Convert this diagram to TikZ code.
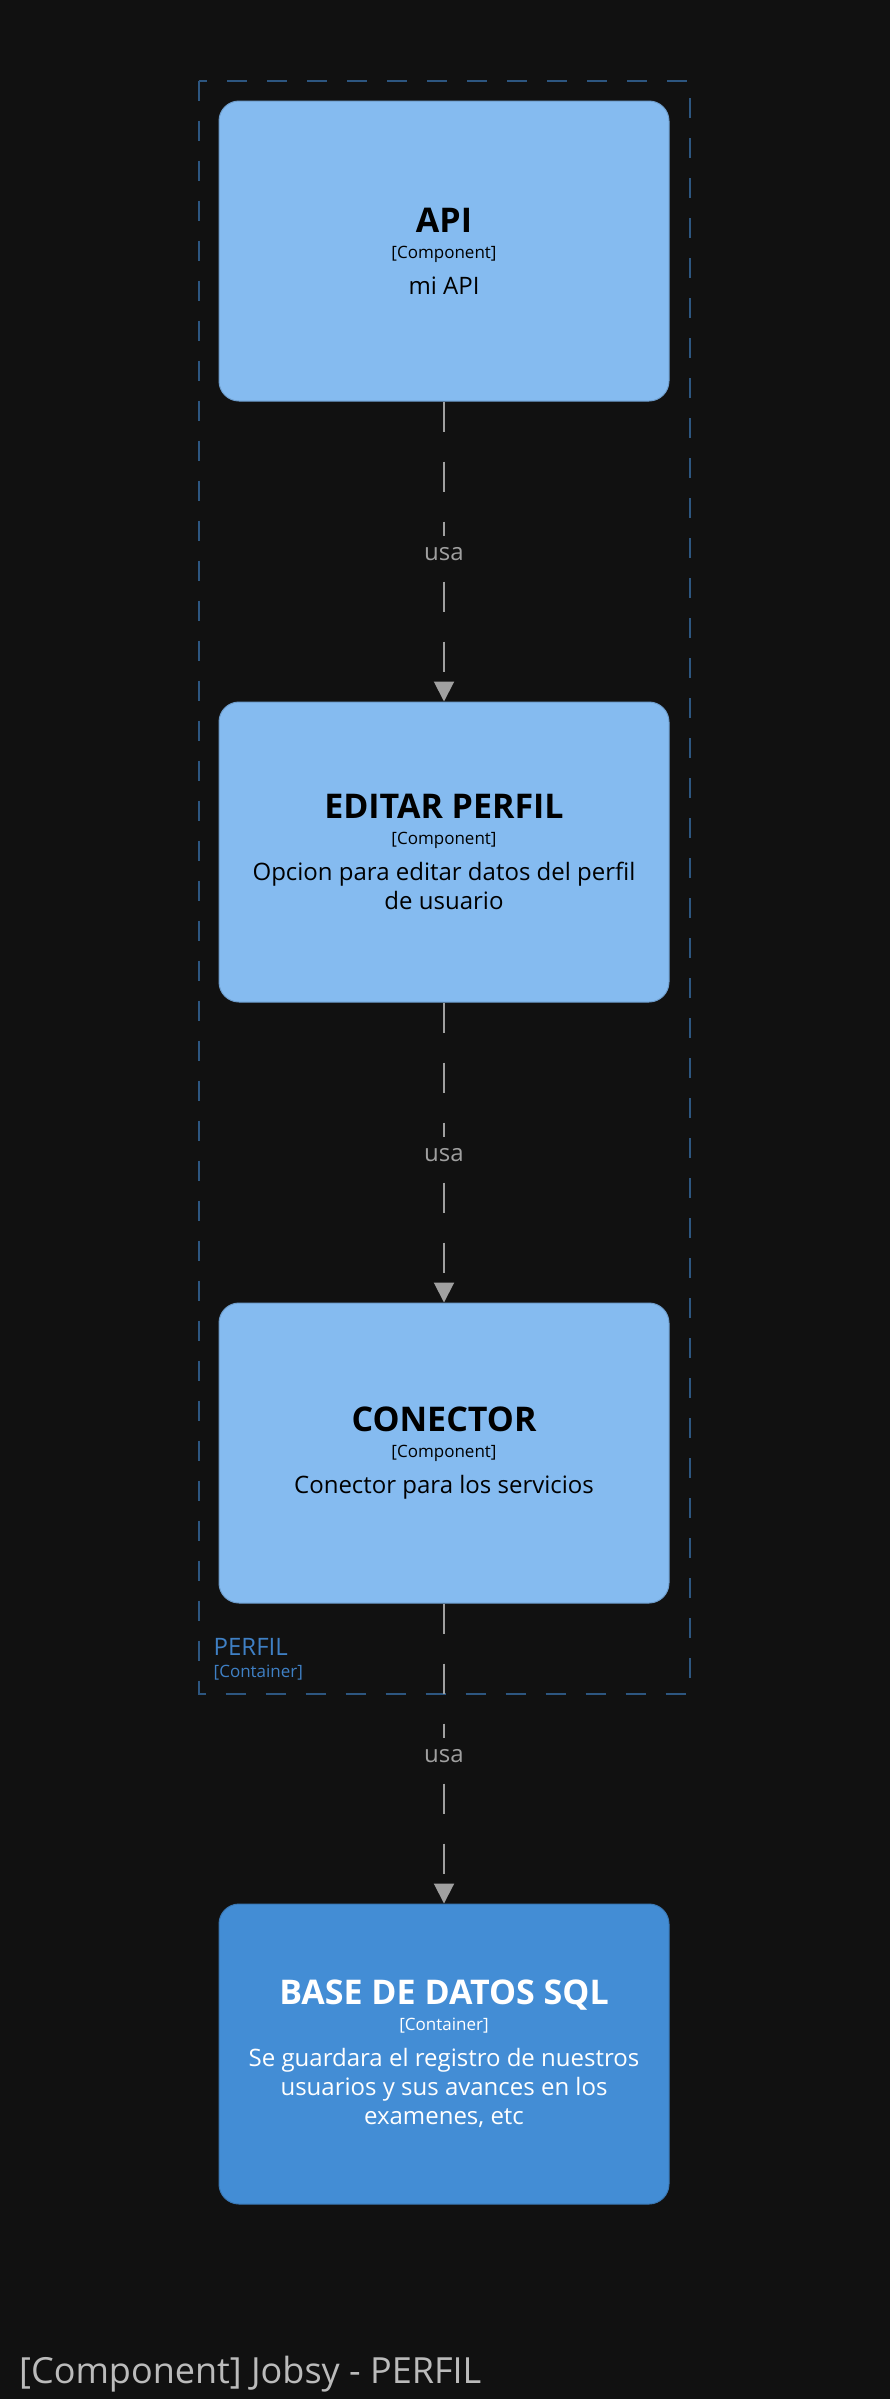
\documentclass[tikz,border=0pt]{standalone}
\usepackage{fontspec}
\setmainfont{Open Sans}
\usetikzlibrary{arrows.meta,positioning,calc}
\definecolor{bgdark}{HTML}{111111}
\definecolor{compblue}{HTML}{85BBF0}
\definecolor{compedge}{HTML}{6E9DCC}
\definecolor{contblue}{HTML}{438DD5}
\definecolor{contedge}{HTML}{3A78B5}
\definecolor{boundblue}{HTML}{2D5680}
\definecolor{boundtext}{HTML}{3F80C5}
\definecolor{relgray}{HTML}{A0A0A0}
\definecolor{titlegray}{HTML}{BBBBBB}
\newcommand{\elname}[1]{{\fontsize{34}{40}\selectfont\bfseries #1}}
\newcommand{\eltype}[1]{{\fontsize{17}{20}\selectfont #1}}
\tikzset{
  component/.style={draw=compedge,fill=compblue,line width=1pt,rounded corners=20pt,
    minimum width=450pt,minimum height=300pt,align=center,text=black,
    font=\fontsize{24}{29}\selectfont},
  container/.style={component,draw=contedge,fill=contblue,text=white},
  rel/.style={draw=relgray,line width=2pt,dash pattern=on 30pt off 30pt,
    -{Triangle[width=20pt,length=20pt]}},
  rellabel/.style={fill=bgdark,text=relgray,inner sep=12pt,yshift=-3pt,
    font=\fontsize{24}{29}\selectfont},
  boundary/.style={draw=boundblue,line width=2pt,dash pattern=on 20pt off 20pt}
}
\begin{document}
\begin{tikzpicture}[x=1pt,y=-1pt,node distance=300pt]
  \fill[bgdark] (0,0) rectangle (890,2399);
  \useasboundingbox (0,0) rectangle (890,2399);

  \node[component] (api) at (444,251)
    {\elname{API}\\[-3pt]\eltype{[Component]}\\[7pt]mi API};
  \node[component] (editar) [below=of api]
    {\elname{EDITAR PERFIL}\\[-3pt]\eltype{[Component]}\\[7pt]Opcion para editar datos del perfil\\de usuario};
  \node[component] (conector) [below=of editar]
    {\elname{CONECTOR}\\[-3pt]\eltype{[Component]}\\[7pt]Conector para los servicios};
  \node[container] (basedatos) [below=of conector]
    {\elname{BASE DE DATOS SQL}\\[-3pt]\eltype{[Container]}\\[7pt]Se guardara el registro de nuestros\\usuarios y sus avances en los\\examenes, etc};

  % limite del contenedor PERFIL
  \draw[boundary] ($(api.north west)+(-20pt,20pt)$) rectangle ($(conector.south east)+(20pt,-90pt)$);
  \node[anchor=base west,inner sep=0pt,text=boundtext,font=\fontsize{24}{29}\selectfont]
    (perfil) at ($(conector.south west)+(-5pt,-51.5pt)$) {PERFIL};
  \node[anchor=base west,inner sep=0pt,text=boundtext,font=\fontsize{17}{20}\selectfont]
    (perfiltipo) at ($(conector.south west)+(-5pt,-74pt)$) {[Container]};

  \path[rel] (api) -- node[rellabel] (usa1) {usa} (editar);
  \path[rel] (editar) -- node[rellabel] (usa2) {usa} (conector);
  \path[rel] (conector) -- node[rellabel] (usa3) {usa} (basedatos);

  \node[anchor=base west,inner sep=0pt,text=titlegray,font=\fontsize{36}{43}\selectfont]
    (titulo) at (19,2383) {[Component] Jobsy - PERFIL};
\end{tikzpicture}
\end{document}
